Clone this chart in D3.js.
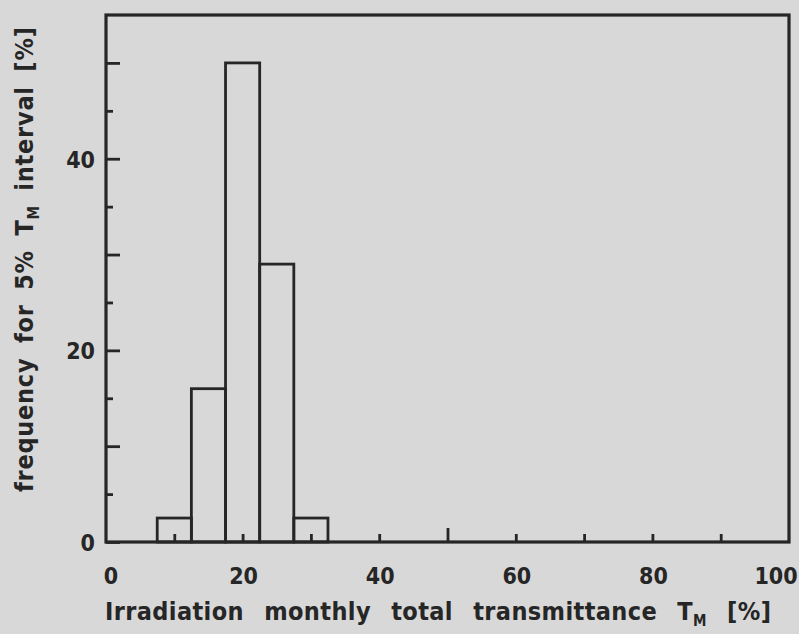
<!doctype html>
<html>
<head>
  <meta charset="utf-8" />
  <script src="https://cdn.jsdelivr.net/npm/d3@7"></script>
</head>
<body style="margin:0px; background:#d8d8d8">
<script>

// histogram bins (lower edge, upper edge) and frequency in %
var binStart = [7.5, 12.5, 17.5, 22.5, 27.5];
var binEnd   = [12.5, 17.5, 22.5, 27.5, 32.5];
var freq     = [2.5, 16, 50, 29, 2.5];

var xLabels = [0, 20, 40, 60, 80, 100];
var yLabels = [0, 20, 40];

var w = 799, h = 634;
var ink = "#262626";
var font = "'DejaVu Sans Condensed', 'Liberation Sans Narrow', 'DejaVu Sans', sans-serif";

var svg = d3.select("body").append("svg").attr("width", w).attr("height", h);

svg.append("rect").attr("width", w).attr("height", h).attr("fill", "#d8d8d8");

var x = d3.scaleLinear().domain([0, 100]).range([106, 789]);
var y = d3.scaleLinear().domain([0, 55]).range([542, 15]);

// bars
svg.selectAll("rect.bar")
   .data(freq)
   .enter()
   .append("rect")
     .attr("class", "bar")
     .attr("x", function(d,i){ return x(binStart[i]); })
     .attr("width", function(d,i){ return x(binEnd[i]) - x(binStart[i]); })
     .attr("y", function(d){ return y(d); })
     .attr("height", function(d){ return y(0) - y(d); })
     .attr("fill", "none")
     .attr("stroke", ink)
     .attr("stroke-width", 2.8);

// ticks, pointing inward
var yAxis = svg.append("g")
  .attr("transform", "translate(" + x(0) + ",0)")
  .call(d3.axisRight(y).tickValues(d3.range(0, 55, 5)).tickFormat(""));
yAxis.selectAll(".tick line")
  .attr("x2", function(d){ return d % 10 == 0 ? 14 : 7; })
  .attr("stroke", ink).attr("stroke-width", 2.8);
yAxis.select(".domain").remove();

var xAxis = svg.append("g")
  .attr("transform", "translate(0," + y(0) + ")")
  .call(d3.axisTop(x).tickValues(d3.range(10, 100, 10)).tickFormat(""));
xAxis.selectAll(".tick line")
  .attr("y2", function(d){ return d == 50 ? -14 : -8; })
  .attr("stroke", ink).attr("stroke-width", 2.8);
xAxis.select(".domain").remove();

// frame
svg.append("rect")
   .attr("x", x(0)).attr("y", y(55))
   .attr("width", x(100) - x(0)).attr("height", y(0) - y(55))
   .attr("fill", "none")
   .attr("stroke", ink)
   .attr("stroke-width", 3.2);

// tick labels
svg.selectAll("text.xl")
   .data(xLabels)
   .enter()
   .append("text")
     .attr("class", "xl")
     .attr("x", function(d){ return d == 100 ? x(d) - 13 : x(d) + (d == 0 ? 5 : 1); })
     .attr("y", 584)
     .attr("text-anchor", "middle")
     .attr("font-family", font).attr("font-weight", "bold").attr("font-size", 23)
     .attr("fill", ink)
     .text(function(d){ return d; });

svg.selectAll("text.yl")
   .data(yLabels)
   .enter()
   .append("text")
     .attr("class", "yl")
     .attr("x", 95)
     .attr("y", function(d){ return y(d) + 9; })
     .attr("text-anchor", "end")
     .attr("font-family", font).attr("font-weight", "bold").attr("font-size", 23)
     .attr("fill", ink)
     .text(function(d){ return d; });

// axis titles
var xt = svg.append("text")
  .attr("x", 105).attr("y", 620)
  .attr("font-family", font).attr("font-weight", "bold").attr("font-size", 25)
  .attr("fill", ink)
  .attr("word-spacing", 12)
  .attr("textLength", 666).attr("lengthAdjust", "spacing");
xt.append("tspan").text("Irradiation monthly total transmittance T");
xt.append("tspan").attr("font-size", 15).attr("dy", 6).text("M");
xt.append("tspan").attr("dy", -6).text(" [%]");

var yt = svg.append("text")
  .attr("transform", "translate(33,492) rotate(-90)")
  .attr("font-family", font).attr("font-weight", "bold").attr("font-size", 25)
  .attr("fill", ink)
  .attr("word-spacing", 6)
  .attr("textLength", 465).attr("lengthAdjust", "spacing");
yt.append("tspan").text("frequency for 5% T");
yt.append("tspan").attr("font-size", 15).attr("dy", 6).text("M");
yt.append("tspan").attr("dy", -6).text(" interval [%]");

</script>
</body>
</html>
